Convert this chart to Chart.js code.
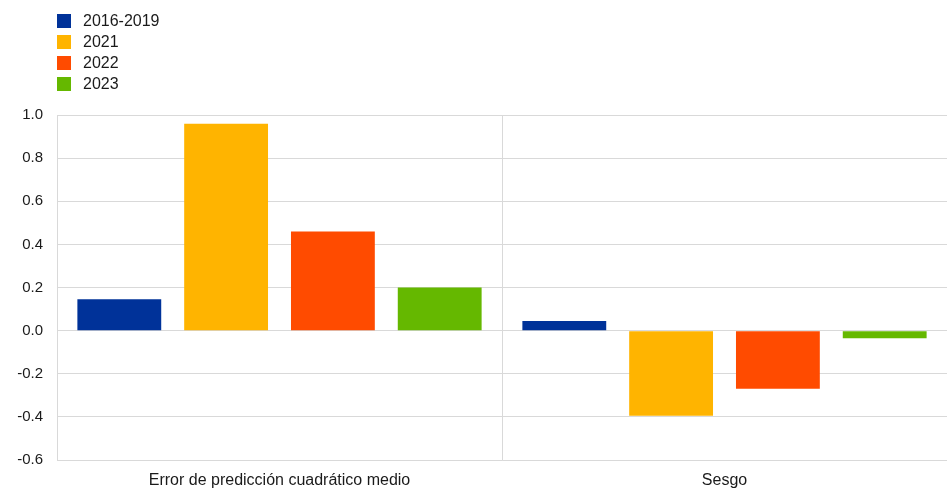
<!DOCTYPE html>
<html>
<head>
<meta charset="utf-8">
<script src="https://cdn.jsdelivr.net/npm/chart.js@4.4.1/dist/chart.umd.min.js"></script>
<style>
  html, body { margin: 0; padding: 0; background: #fff; }
  #wrap { position: relative; width: 947px; height: 489px; }
  #legend { position: absolute; left: 57px; top: 14px; font-family: "Liberation Sans", Arial, sans-serif; font-size: 16px; color: #1a1a1a; }
  .item { position: relative; height: 21px; }
  .box { position: absolute; left: 0; top: 0; width: 14px; height: 14px; }
  .lab { position: absolute; left: 26px; top: -2px; line-height: 18px; white-space: nowrap; }
</style>
</head>
<body>
<div id="wrap">
  <canvas id="c" width="947" height="489"></canvas>
  <div id="legend"></div>
</div>
<script>
const categories = ["Error de predicción cuadrático medio", "Sesgo"];
const seriesNames = ["2016-2019", "2021", "2022", "2023"];
const s20162019 = [0.145, 0.045];
const s2021 = [0.96, -0.395];
const s2022 = [0.46, -0.27];
const s2023 = [0.2, -0.035];
const seriesColors = ["#003299", "#FFB400", "#FF4B00", "#65B800"];
const yTicks = [-0.6, -0.4, -0.2, 0.0, 0.2, 0.4, 0.6, 0.8, 1.0];

const seriesValues = [s20162019, s2021, s2022, s2023];
const datasets = seriesNames.map((n, i) => ({
  label: n,
  data: seriesValues[i],
  backgroundColor: seriesColors[i],
  borderWidth: 0,
  categoryPercentage: 0.96,
  barPercentage: 0.785
}));

const legend = document.getElementById('legend');
seriesNames.forEach((n, i) => {
  const d = document.createElement('div');
  d.className = 'item';
  d.innerHTML = '<span class="box" style="background:' + seriesColors[i] + '"></span><span class="lab">' + n + '</span>';
  legend.appendChild(d);
});

const family = '"Liberation Sans", Arial, sans-serif';
new Chart(document.getElementById('c'), {
  type: 'bar',
  data: { labels: categories, datasets },
  options: {
    responsive: false,
    animation: false,
    devicePixelRatio: 1,
    layout: { padding: { top: 115, right: 0, left: 0, bottom: 0 } },
    plugins: { legend: { display: false }, tooltip: { enabled: false } },
    scales: {
      x: {
        grid: { color: '#d9d9d9', lineWidth: 1, drawTicks: false, offset: true },
        border: { color: '#d9d9d9' },
        ticks: { color: '#1a1a1a', font: { family, size: 16 }, padding: 11 },
        afterFit: s => { s.height = 29; }
      },
      y: {
        min: -0.6, max: 1.0,
        afterBuildTicks: s => { s.ticks = yTicks.map(v => ({ value: v })); },
        grid: { color: '#d9d9d9', lineWidth: 1, drawTicks: false },
        border: { color: '#d9d9d9' },
        ticks: { color: '#1a1a1a', font: { family, size: 15 }, padding: 14, callback: v => Number(v).toFixed(1) },
        afterFit: s => { s.width = 57; }
      }
    }
  }
});
</script>
</body>
</html>
